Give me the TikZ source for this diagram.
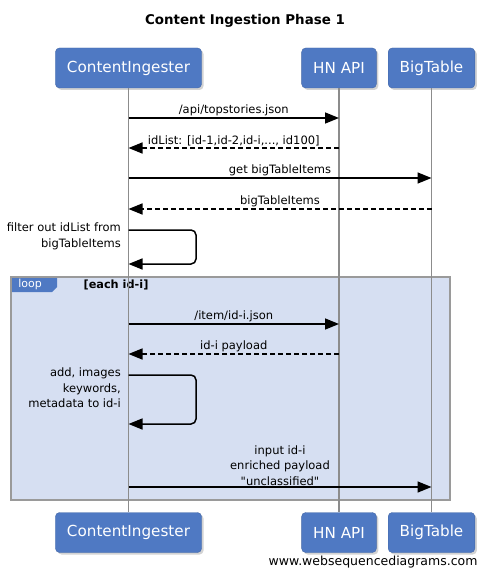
\documentclass[tikz,border=0pt]{standalone}
\usepackage{fontspec}
\setmainfont{DejaVu Sans}[Ligatures=TeXOff]
\usetikzlibrary{arrows.meta,shadows}
\definecolor{actorblue}{HTML}{4F79C3}
\definecolor{loopfill}{HTML}{D6DFF2}
\definecolor{lifegray}{HTML}{8C8C8C}
\definecolor{framegray}{HTML}{9A9A9A}

\begin{document}
\begin{tikzpicture}[x=1pt,y=-1pt,
  actor/.style = {draw=actorblue!85!black, fill=actorblue, rounded corners=4pt, text=white, font=\fontsize{15.2}{18}\selectfont, minimum height=40pt, inner xsep=11.5pt, drop shadow={shadow xshift=2pt,shadow yshift=-2pt,opacity=0.35}},
  life/.style = {draw=lifegray, line width=1.5pt},
  msg/.style = {line width=1.5pt, -{Triangle[length=14pt,width=11pt]}},
  reply/.style = {msg, dash pattern=on 5pt off 3pt},
  lbl/.style = {font=\fontsize{11.5}{15.5}\selectfont, align=center, inner sep=1pt}]
\useasboundingbox (0,0) rectangle (490,577);
\node[font=\bfseries\fontsize{13.4}{16}\selectfont] (title) at (245,21) {Content Ingestion Phase 1};
\fill[loopfill] (11,277) rectangle (450,500);
\fill[actorblue] (11,277) -- (57,277) -- (57,287) -- (52,292) -- (11,292) -- cycle;
\draw[framegray, line width=1.5pt] (11,277) rectangle (450,500);
\node[text=white, font=\fontsize{11}{12}\selectfont] (lp) at (30,284.5) {loop};
\node[font=\bfseries\fontsize{11.3}{13}\selectfont] (guard) at (116,285) {[each id-i]};
\node[actor] (ci) at (128.5,68) {ContentIngester};
\node[actor] (hn) at (339,68) {HN API};
\node[actor] (bt) at (431.5,68) {BigTable};
\node[actor] (ci2) at (128.5,532.5) {ContentIngester};
\node[actor] (hn2) at (339,532.5) {HN API};
\node[actor] (bt2) at (431.5,532.5) {BigTable};
\draw[life] (ci.south) -- (ci2.north);
\draw[life] (hn.south) -- (hn2.north);
\draw[life] (bt.south) -- (bt2.north);
\draw[msg] (ci |- 0,118) -- (hn |- 0,118) node[lbl, midway, above] (m1) {/api/topstories.json};
\draw[reply] (hn |- 0,148) -- (ci |- 0,148) node[lbl, midway, above] (m2) {idList: [id-1,id-2,id-i,..., id100]};
\draw[msg] (ci |- 0,178) -- (bt |- 0,178) node[lbl, midway, above] (m3) {get bigTableItems};
\draw[reply] (bt |- 0,209) -- (ci |- 0,209) node[lbl, midway, above] (m4) {bigTableItems};
\draw[msg, rounded corners=5pt] (ci |- 0,230) -| (196,264) -- (ci |- 0,264);
\node[lbl, align=right, anchor=north east] (m5) at (122,222) {filter out idList from\\bigTableItems};
\draw[msg] (ci |- 0,324) -- (hn |- 0,324) node[lbl, midway, above] (m6) {/item/id-i.json};
\draw[reply] (hn |- 0,354) -- (ci |- 0,354) node[lbl, midway, above] (m7) {id-i payload};
\draw[msg, rounded corners=5pt] (ci |- 0,375) -| (196,424) -- (ci |- 0,424);
\node[lbl, align=right, anchor=north east] (m8) at (122,367) {add, images\\keywords,\\metadata to id-i};
\draw[msg] (ci |- 0,487) -- (bt |- 0,487) node[lbl, midway, above] (m9) {input id-i\\enriched payload\\"unclassified"};
\node[font=\fontsize{12.5}{15}\selectfont, anchor=east] (web) at (481,562) {www.websequencediagrams.com};
\end{tikzpicture}
\end{document}
